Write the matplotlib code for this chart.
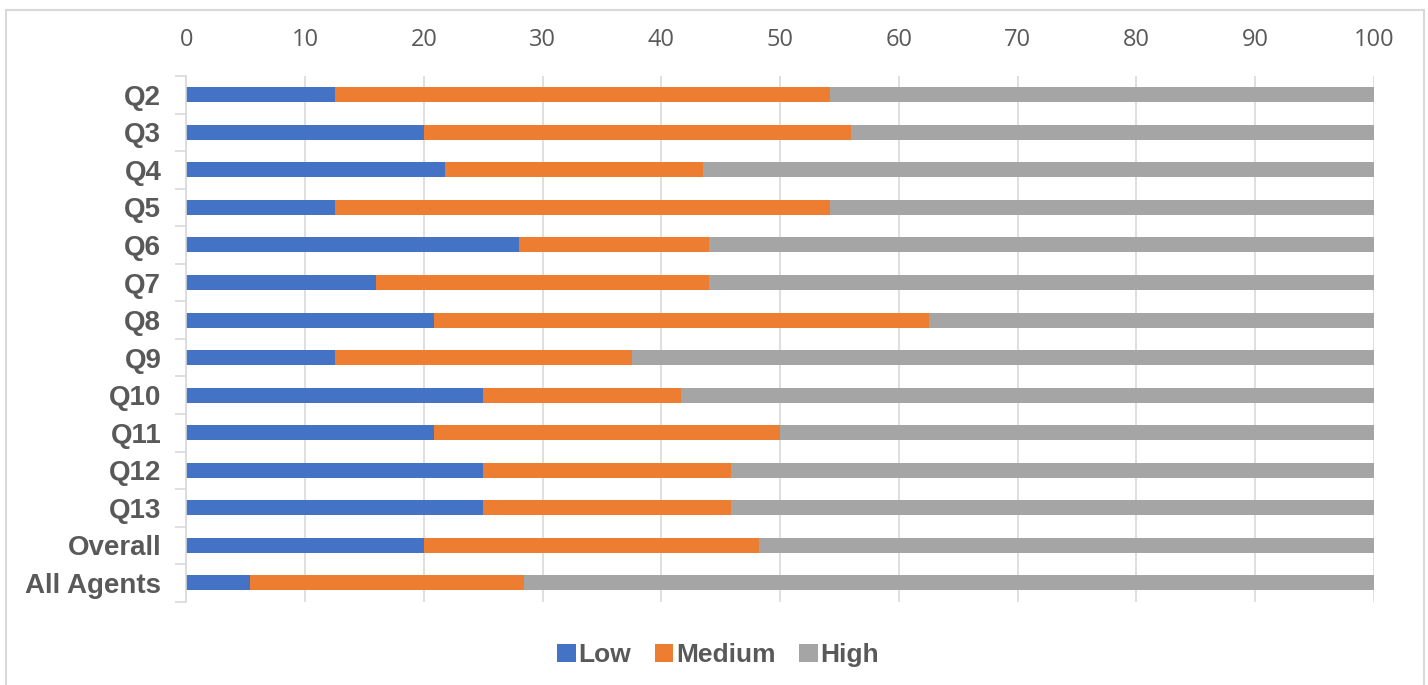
import matplotlib
matplotlib.use("Agg")
import matplotlib.pyplot as plt
from matplotlib.patches import Patch
from matplotlib.lines import Line2D
import numpy as np

categories = ["Q2", "Q3", "Q4", "Q5", "Q6", "Q7", "Q8", "Q9", "Q10", "Q11",
              "Q12", "Q13", "Overall", "All Agents"]
low = [12.5, 20.0, 21.74, 12.5, 28.0, 16.0, 20.83, 12.5, 25.0, 20.83,
       25.0, 25.0, 20.0, 5.4]
medium = [41.67, 36.0, 21.74, 41.67, 16.0, 28.0, 41.67, 25.0, 16.67, 29.17,
          20.83, 20.83, 28.2, 23.0]
high = [45.83, 44.0, 56.52, 45.83, 56.0, 56.0, 37.5, 62.5, 58.33, 50.0,
        54.17, 54.17, 51.8, 71.6]
series_names = ["Low", "Medium", "High"]
colors = ["#4472C4", "#ED7D31", "#A5A5A5"]
x_ticks = list(range(0, 101, 10))

plt.rcParams['font.family'] = ['Liberation Sans', 'DejaVu Sans']

fig = plt.figure(figsize=(14.28, 6.85), dpi=100)
W, H = 1428, 685
ax = fig.add_axes([186.3 / W, 1 - 601.7 / H, (1374 - 186.3) / W, (601.7 - 76) / H])

y = np.arange(len(categories))
left = np.zeros(len(categories))
for vals, name, c in zip([low, medium, high], series_names, colors):
    ax.barh(y, vals, left=left, height=0.4, color=c, label=name, zorder=3)
    left += np.array(vals)

ax.set_ylim(len(categories) - 0.5, -0.5)
ax.set_xlim(0, 100)
ax.set_xticks(x_ticks)
ax.set_xticklabels([str(v) for v in x_ticks], fontsize=17,
                   fontfamily=['Open Sans', 'DejaVu Sans'], color="#595959")
ax.xaxis.tick_top()
ax.tick_params(axis='x', length=0, pad=17)
ax.set_yticks(y)
ax.set_yticklabels(categories, fontsize=20, fontweight='bold', color="#595959")
ax.tick_params(axis='y', which='major', length=0, pad=18)
ax.set_yticks(np.arange(-0.5, len(categories)), minor=True)
ax.tick_params(axis='y', which='minor', length=8, width=1.2, color="#D9D9D9")
ax.grid(axis='x', color="#D9D9D9", linewidth=1.2, zorder=0)
for s in ["top", "right", "bottom"]:
    ax.spines[s].set_visible(False)
ax.spines["left"].set_color("#D9D9D9")
ax.spines["left"].set_linewidth(1.2)
ax.spines["left"].set_zorder(4)

handles = [Patch(facecolor=c, edgecolor='none') for c in colors]
leg = fig.legend(handles, series_names, loc='center', bbox_to_anchor=(718 / W, 1 - 655 / H),
                 ncol=3, frameon=False, handlelength=0.7, handleheight=0.7,
                 handletextpad=0.1, columnspacing=0.9,
                 prop={'size': 19, 'weight': 'bold'})
for t in leg.get_texts():
    t.set_color("#595959")

bc = "#D9D9D9"
x0, x1, yt = 6 / W, 1424 / W, 1 - 10 / H
fig.add_artist(Line2D([x0, x0], [0, yt], color=bc, lw=1.5, transform=fig.transFigure))
fig.add_artist(Line2D([x1, x1], [0, yt], color=bc, lw=1.5, transform=fig.transFigure))
fig.add_artist(Line2D([x0, x1], [yt, yt], color=bc, lw=1.5, transform=fig.transFigure))

fig.savefig("out.png", dpi=100, facecolor="white")
